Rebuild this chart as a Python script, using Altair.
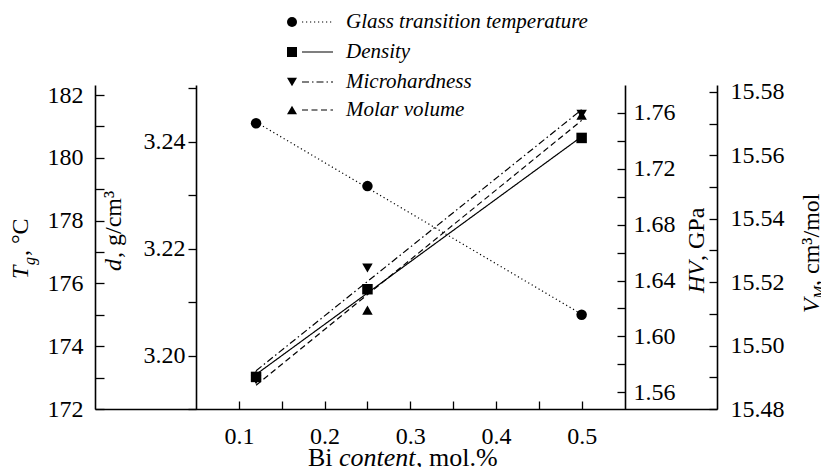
import json
import altair as alt
import pandas as pd

# ---------------- data ----------------
bi_content = [0.12, 0.25, 0.50]
tg_values = [181.1, 179.1, 175.0]
density_values = [3.196, 3.2124, 3.2407]
hardness_values = [1.569, 1.649, 1.759]
molar_volume_values = [15.4907, 15.5112, 15.5727]

series_names = ["Glass transition temperature", "Density", "Microhardness", "Molar volume"]

x_tick_values = [0.1, 0.15, 0.2, 0.25, 0.3, 0.35, 0.4, 0.45, 0.5]
x_tick_labels = ["0.1", "0.2", "0.3", "0.4", "0.5"]
tg_tick_values = [172, 173, 174, 175, 176, 177, 178, 179, 180, 181, 182]
tg_tick_labels = ["172", "174", "176", "178", "180", "182"]
d_tick_values = [3.19, 3.20, 3.21, 3.22, 3.23, 3.24, 3.25]
d_tick_labels = ["3.20", "3.22", "3.24"]
hv_tick_values = [1.56, 1.58, 1.60, 1.62, 1.64, 1.66, 1.68, 1.70, 1.72, 1.74, 1.76]
hv_tick_labels = ["1.56", "1.60", "1.64", "1.68", "1.72", "1.76"]
vm_tick_values = [15.48, 15.49, 15.50, 15.51, 15.52, 15.53, 15.54, 15.55, 15.56, 15.57, 15.58]
vm_tick_labels = ["15.48", "15.50", "15.52", "15.54", "15.56", "15.58"]

x_domain = [-0.068, 0.658]
tg_domain = [172, 182.32]
d_domain = [3.19, 3.2506]
hv_domain = [1.548, 1.780]
vm_domain = [15.48, 15.5822]

FONT = "Liberation Serif"
W, H = 622, 324

df = pd.DataFrame({
    "x": bi_content,
    "tg": tg_values,
    "d": density_values,
    "hv": hardness_values,
    "vm": molar_volume_values,
})


def label_expr(labels, fmt_test, fmt_show):
    keys = [format(float(s), fmt_test) for s in labels]
    return (f"indexof({json.dumps(keys)}, format(datum.value, '{fmt_test}')) >= 0 "
            f"? format(datum.value, '{fmt_show}') : ''")


common_axis = dict(
    title=None, grid=False, domainColor="black", domainWidth=1.6,
    tickColor="black", tickWidth=1.3, labelColor="black", labelFont=FONT,
    labelFontSize=24, labelOverlap=False, labelFlush=False, labelBound=False,
)

x_axis = alt.Axis(orient="top", offset=-H, values=x_tick_values, tickSize=8,
                  labelExpr=label_expr(x_tick_labels, ".2f", ".1f"),
                  labelBaseline="middle", labelAlign="center", labelPadding=-35,
                  **common_axis)
x_enc = alt.X("x:Q", scale=alt.Scale(domain=x_domain, nice=False, zero=False), axis=x_axis)

tg_axis = alt.Axis(orient="right", offset=-W, values=tg_tick_values, tickSize=9,
                   labelExpr=label_expr(tg_tick_labels, ".0f", ".0f"),
                   labelAlign="right", labelPadding=-21, **common_axis)
d_axis = alt.Axis(orient="left", offset=-101, values=d_tick_values, tickSize=8,
                  labelExpr=label_expr(d_tick_labels, ".2f", ".2f"),
                  labelAlign="right", labelPadding=3, **common_axis)
hv_axis = alt.Axis(orient="left", offset=-530, values=hv_tick_values, tickSize=8,
                   labelExpr=label_expr(hv_tick_labels, ".2f", ".2f"),
                   labelAlign="left", labelPadding=-16, **common_axis)
vm_axis = alt.Axis(orient="left", offset=-W, values=vm_tick_values, tickSize=8,
                   labelExpr=label_expr(vm_tick_labels, ".2f", ".2f"),
                   labelAlign="left", labelPadding=-21, **common_axis)

styles = [
    ("tg", tg_domain, tg_axis, "circle", [1.2, 2.8]),
    ("d", d_domain, d_axis, "square", [1, 0]),
    ("hv", hv_domain, hv_axis, "triangle-down", [7, 3, 1.5, 3]),
    ("vm", vm_domain, vm_axis, "triangle-up", [6, 3.5]),
]

base = alt.Chart(df)
series_layers = []
for field, dom, ax, shape, dash in styles:
    y_enc = alt.Y(f"{field}:Q", scale=alt.Scale(domain=dom, nice=False, zero=False), axis=ax)
    line = base.transform_regression("x", field, extent=[bi_content[0], bi_content[-1]]).mark_line(
        color="black", strokeWidth=1.2, strokeDash=dash).encode(x=x_enc, y=y_enc)
    pts = base.mark_point(shape=shape, filled=True, size=110, color="black", opacity=1).encode(
        x=x_enc, y=y_enc)
    series_layers.append(alt.layer(line, pts))

one = pd.DataFrame({"a": [0]})

# ---------------- legend ----------------
legend_layers = []
legend_rows_y = [-63, -33, -3, 25]
for (field, dom, ax, shape, dash), name, yy in zip(styles, series_names, legend_rows_y):
    legend_layers.append(alt.Chart(one).mark_point(shape=shape, filled=True, size=100, color="black", opacity=1)
                         .encode(x=alt.value(197), y=alt.value(yy)))
    legend_layers.append(alt.Chart(one).mark_rule(color="black", strokeWidth=1.2, strokeDash=dash)
                         .encode(x=alt.value(207), x2=alt.value(238), y=alt.value(yy)))
    legend_layers.append(alt.Chart(one).mark_text(text=name, font=FONT, fontSize=21, fontStyle="italic",
                                                  align="left", baseline="middle", color="black")
                         .encode(x=alt.value(251), y=alt.value(yy)))


# ---------------- axis titles (segments) ----------------
def seg(text, x, y, size=24, italic=False, angle=270):
    kw = dict(text=text, font=FONT, fontSize=size, align="left", baseline="alphabetic",
              color="black", angle=angle)
    if italic:
        kw["fontStyle"] = "italic"
    return alt.Chart(one).mark_text(**kw).encode(x=alt.value(x), y=alt.value(y))


title_layers = [
    # T_g, °C
    seg("T", -67, 194, italic=True),
    seg("g", -60, 180, size=16, italic=True),
    seg(", °C", -67, 171),
    # d, g/cm3
    seg("d", 26, 186, italic=True),
    seg(", g/cm³", 26, 173),
    # HV, GPa
    seg("HV", 609, 208, italic=True),
    seg(", GPa", 609, 176),
    # V_M, cm3/mol
    seg("V", 724, 228, italic=True),
    seg("M", 730, 214, size=16, italic=True),
    seg(", cm³/mol", 724, 201),
    # Bi content, mol.%
    seg("Bi", 213, 381, size=26, angle=0),
    seg("content", 244, 381, size=26, italic=True, angle=0),
    seg(", mol.%", 321, 381, size=26, angle=0),
]

chart = alt.layer(*series_layers, *legend_layers, *title_layers).resolve_scale(
    y="independent"
).properties(
    width=W, height=H,
    autosize=alt.AutoSizeParams(type="none"),
    padding={"left": 87, "top": 77, "right": 104, "bottom": 58},
).configure_view(stroke=None)

chart.save("out.html", embed_options={"renderer": "svg", "actions": False})
